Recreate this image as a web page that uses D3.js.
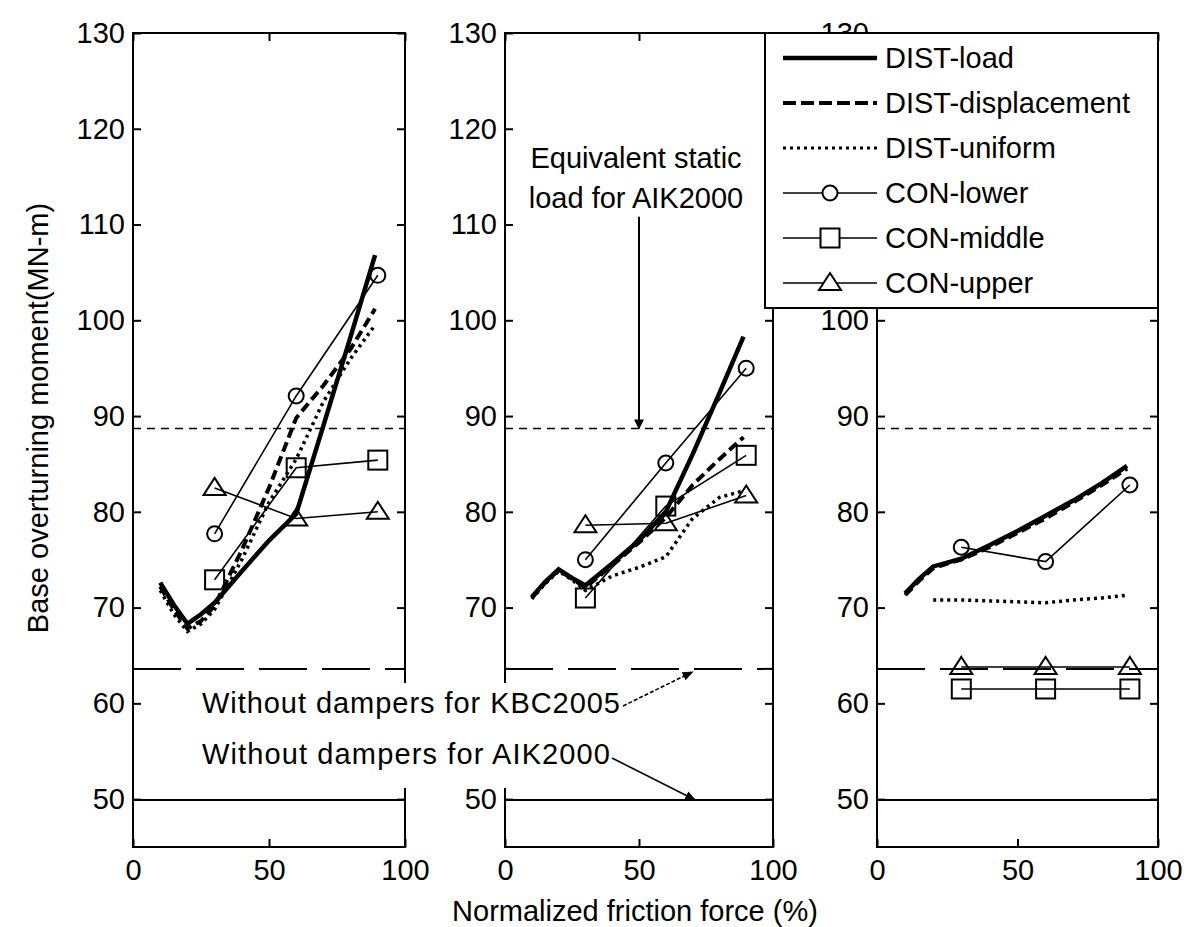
<!DOCTYPE html>
<html>
<head>
<meta charset="utf-8">
<script src="https://cdn.jsdelivr.net/npm/d3@7"></script>
<style>
  body { margin: 0; background: #fff; }
  svg text { font-family: "Liberation Sans", Arial, sans-serif; fill: #000; }
</style>
</head>
<body>
<div id="vis"></div>
<script>
// x grid of the DIST curves (normalized friction force, %)
var distX = [10, 15, 20, 25, 30, 40, 50, 60, 70, 80, 89];
// x of the CON points
var conX = [30, 60, 90];

// panel 1
var p1Load = [72.6, 70.3, 68.3, 69.3, 70.5, 73.8, 77.0, 79.8, 89.0, 98.3, 106.8];
var p1Disp = [72.2, 69.8, 67.8, 68.6, 70.2, 76.0, 82.5, 89.8, 93.2, 97.0, 101.2];
var p1Unif = [71.8, 69.3, 67.5, 68.3, 69.8, 75.0, 81.0, 85.5, 91.5, 96.0, 99.5];
var p1Lower = [77.7, 92.1, 104.7];
var p1Middle = [72.9, 84.6, 85.4];
var p1Upper = [82.5, 79.3, 80.0];

// panel 2
var p2Load = [71.1, 72.7, 74.0, 73.1, 72.3, 74.6, 77.0, 80.0, 86.0, 92.4, 98.3];
var p2Disp = [71.0, 72.6, 73.9, 73.0, 72.1, 74.4, 76.8, 79.4, 82.8, 85.5, 87.8];
var p2Unif = [70.9, 72.5, 73.8, 72.9, 71.8, 73.3, 74.2, 75.3, 79.3, 81.5, 82.2];
var p2Lower = [75.0, 85.1, 95.0];
var p2Middle = [71.0, 80.6, 85.9];
var p2Upper = [78.6, 78.8, 81.7];

// panel 3
var p3Load = [71.5, 73.0, 74.3, 74.7, 75.1, 76.5, 78.0, 79.6, 81.2, 83.0, 84.8];
var p3Disp = [71.3, 72.8, 74.1, 74.6, 75.0, 76.3, 77.8, 79.3, 81.0, 82.8, 84.5];
var p3Unif = [null, null, 70.8, 70.8, 70.8, 70.7, 70.6, 70.5, 70.8, 71.0, 71.3];
var p3Lower = [76.3, 74.8, 82.8];
var p3Middle = [61.5, 61.5, 61.5];
var p3Upper = [63.8, 63.8, 63.8];

// reference levels (MN-m)
var refStatic = 88.7;   // equivalent static load, AIK2000
var refKbc = 63.6;      // without dampers, KBC2005
var refAik = 49.9;      // without dampers, AIK2000

var yTicks = [50, 60, 70, 80, 90, 100, 110, 120, 130];
var xTicks = [0, 50, 100];

var legendNames = ["DIST-load", "DIST-displacement", "DIST-uniform", "CON-lower", "CON-middle", "CON-upper"];

var width = 1194, height = 927;
var plotTop = 33, plotBottom = 847;
var panels = [
  { left: 133, right: 405, load: p1Load, disp: p1Disp, unif: p1Unif, lower: p1Lower, middle: p1Middle, upper: p1Upper },
  { left: 505, right: 773, load: p2Load, disp: p2Disp, unif: p2Unif, lower: p2Lower, middle: p2Middle, upper: p2Upper, hideLabel: 60 },
  { left: 877, right: 1158, load: p3Load, disp: p3Disp, unif: p3Unif, lower: p3Lower, middle: p3Middle, upper: p3Upper }
];

var fontSize = 29;

var svg = d3.select("#vis").append("svg")
  .attr("width", width)
  .attr("height", height);

var defs = svg.append("defs");
defs.append("marker")
  .attr("id", "arrow")
  .attr("viewBox", "0 0 10 10")
  .attr("refX", 9).attr("refY", 5)
  .attr("markerWidth", 7).attr("markerHeight", 7)
  .attr("markerUnits", "strokeWidth")
  .attr("orient", "auto")
  .append("path").attr("d", "M0,1 L10,5 L0,9 Z").attr("fill", "#000");
defs.append("marker")
  .attr("id", "arrowBig")
  .attr("viewBox", "0 0 10 10")
  .attr("refX", 9).attr("refY", 5)
  .attr("markerWidth", 6).attr("markerHeight", 5)
  .attr("markerUnits", "strokeWidth")
  .attr("orient", "auto")
  .append("path").attr("d", "M0,0 L10,5 L0,10 Z").attr("fill", "#000");

var y = d3.scaleLinear().domain([45, 130]).range([plotBottom, plotTop]);

function drawMarker(sel, shape) {
  if (shape === "circle") {
    sel.append("circle").attr("r", 7.5);
  } else if (shape === "square") {
    sel.append("rect").attr("x", -9.5).attr("y", -9.5).attr("width", 19).attr("height", 19);
  } else {
    sel.append("path").attr("d", "M0,-10 L11,7 L-11,7 Z");
  }
}

panels.forEach(function(p, i) {
  var x = d3.scaleLinear().domain([0, 100]).range([p.left, p.right]);
  p.x = x;
  var g = svg.append("g").attr("class", "panel");

  // reference lines
  g.append("line")
    .attr("x1", x(0)).attr("x2", x(100))
    .attr("y1", y(refStatic)).attr("y2", y(refStatic))
    .attr("stroke", "#000").attr("stroke-width", 1.6)
    .attr("stroke-dasharray", "8,6");
  g.append("line")
    .attr("x1", x(0)).attr("x2", x(100))
    .attr("y1", y(refKbc)).attr("y2", y(refKbc))
    .attr("stroke", "#000").attr("stroke-width", 2)
    .attr("stroke-dasharray", "48,15");
  g.append("line")
    .attr("x1", x(0)).attr("x2", x(100))
    .attr("y1", y(refAik)).attr("y2", y(refAik))
    .attr("stroke", "#000").attr("stroke-width", 2);

  // DIST curves
  var line = d3.line()
    .defined(function(d) { return d[1] !== null; })
    .x(function(d) { return x(d[0]); })
    .y(function(d) { return y(d[1]); });

  var dist = [
    { vals: p.unif, dash: "3,4", w: 3.5 },
    { vals: p.disp, dash: "10,5", w: 4 },
    { vals: p.load, dash: null, w: 4.5 }
  ];
  dist.forEach(function(s) {
    g.append("path")
      .datum(distX.map(function(d, k) { return [d, s.vals[k]]; }))
      .attr("d", line)
      .attr("fill", "none")
      .attr("stroke", "#000")
      .attr("stroke-width", s.w)
      .attr("stroke-dasharray", s.dash);
  });

  // CON series
  var con = [
    { vals: p.lower, shape: "circle" },
    { vals: p.middle, shape: "square" },
    { vals: p.upper, shape: "triangle" }
  ];
  con.forEach(function(s) {
    var pts = conX.map(function(d, k) { return [d, s.vals[k]]; });
    g.append("path")
      .datum(pts)
      .attr("d", line)
      .attr("fill", "none")
      .attr("stroke", "#000")
      .attr("stroke-width", 1.6);
    g.selectAll(null)
      .data(pts)
      .enter().append("g")
      .attr("transform", function(d) { return "translate(" + x(d[0]) + "," + y(d[1]) + ")"; })
      .attr("fill", "none").attr("stroke", "#000").attr("stroke-width", 2)
      .each(function() { drawMarker(d3.select(this), s.shape); });
  });

  // axes, ticks inside on all four sides
  g.append("g").attr("transform", "translate(" + x(0) + ",0)")
    .call(d3.axisLeft(y).tickValues(yTicks).tickSizeInner(-8).tickSizeOuter(0).tickPadding(8)
      .tickFormat(function(d) { return d === p.hideLabel ? "" : d3.format("d")(d); }));
  g.append("g").attr("transform", "translate(" + x(100) + ",0)")
    .call(d3.axisRight(y).tickValues(yTicks).tickSizeInner(-8).tickSizeOuter(0).tickFormat(""));
  g.append("g").attr("transform", "translate(0," + plotBottom + ")")
    .call(d3.axisBottom(x).tickValues(xTicks).tickSizeInner(-8).tickSizeOuter(0).tickPadding(12));
  g.append("g").attr("transform", "translate(0," + plotTop + ")")
    .call(d3.axisTop(x).tickValues(xTicks).tickSizeInner(-8).tickSizeOuter(0).tickFormat(""));

  g.selectAll(".domain").remove();
  g.selectAll(".tick line").attr("stroke", "#000").attr("stroke-width", 2);
  g.selectAll(".tick text").attr("font-size", fontSize).attr("font-family", null);

  g.append("rect")
    .attr("x", x(0)).attr("y", plotTop)
    .attr("width", x(100) - x(0)).attr("height", plotBottom - plotTop)
    .attr("fill", "none").attr("stroke", "#000").attr("stroke-width", 2);
});

var x2 = panels[1].x;

// white box with the "Without dampers" notes
svg.append("rect")
  .attr("x", 197).attr("y", 683)
  .attr("width", 428).attr("height", 105)
  .attr("fill", "#fff");
svg.append("text")
  .attr("x", 202).attr("y", 713)
  .attr("font-size", fontSize)
  .attr("textLength", 418)
  .text("Without dampers for KBC2005");
svg.append("text")
  .attr("x", 202).attr("y", 764)
  .attr("font-size", fontSize)
  .attr("textLength", 408)
  .text("Without dampers for AIK2000");

svg.append("line")
  .attr("x1", 623).attr("y1", 706)
  .attr("x2", x2(70)).attr("y2", y(refKbc) + 3)
  .attr("stroke", "#000").attr("stroke-width", 1.6)
  .attr("stroke-dasharray", "4,2")
  .attr("marker-end", "url(#arrow)");
svg.append("line")
  .attr("x1", 612).attr("y1", 758)
  .attr("x2", x2(71)).attr("y2", y(refAik))
  .attr("stroke", "#000").attr("stroke-width", 1.6)
  .attr("marker-end", "url(#arrow)");

// equivalent static load note
svg.append("text")
  .attr("x", 636).attr("y", 168)
  .attr("text-anchor", "middle")
  .attr("font-size", fontSize)
  .text("Equivalent static");
svg.append("text")
  .attr("x", 636).attr("y", 208)
  .attr("text-anchor", "middle")
  .attr("font-size", fontSize)
  .text("load for AIK2000");
svg.append("line")
  .attr("x1", x2(50)).attr("y1", y(110.8))
  .attr("x2", x2(50)).attr("y2", y(refStatic))
  .attr("stroke", "#000").attr("stroke-width", 2)
  .attr("marker-end", "url(#arrowBig)");

// legend
var lg = svg.append("g").attr("transform", "translate(765,33)");
lg.append("rect")
  .attr("width", 393).attr("height", 275)
  .attr("fill", "#fff").attr("stroke", "#000").attr("stroke-width", 2);
var legendStyle = [
  { dash: null, w: 4.5, shape: null },
  { dash: "13,5", w: 4, shape: null },
  { dash: "3,4", w: 3, shape: null },
  { dash: null, w: 1.6, shape: "circle" },
  { dash: null, w: 1.6, shape: "square" },
  { dash: null, w: 1.6, shape: "triangle" }
];
legendNames.forEach(function(name, k) {
  var row = lg.append("g").attr("transform", "translate(0," + (25 + k * 45) + ")");
  row.append("line")
    .attr("x1", 18).attr("x2", 112)
    .attr("stroke", "#000")
    .attr("stroke-width", legendStyle[k].w)
    .attr("stroke-dasharray", legendStyle[k].dash);
  if (legendStyle[k].shape) {
    var m = row.append("g").attr("transform", "translate(65,0)")
      .attr("fill", "#fff").attr("stroke", "#000").attr("stroke-width", 2);
    drawMarker(m, legendStyle[k].shape);
  }
  row.append("text")
    .attr("x", 120).attr("y", 10)
    .attr("font-size", fontSize)
    .text(name);
});

// axis titles
svg.append("text")
  .attr("transform", "translate(48,418) rotate(-90)")
  .attr("text-anchor", "middle")
  .attr("font-size", fontSize)
  .text("Base overturning moment(MN-m)");
svg.append("text")
  .attr("x", 635).attr("y", 921)
  .attr("text-anchor", "middle")
  .attr("font-size", fontSize)
  .text("Normalized friction force (%)");
</script>
</body>
</html>
